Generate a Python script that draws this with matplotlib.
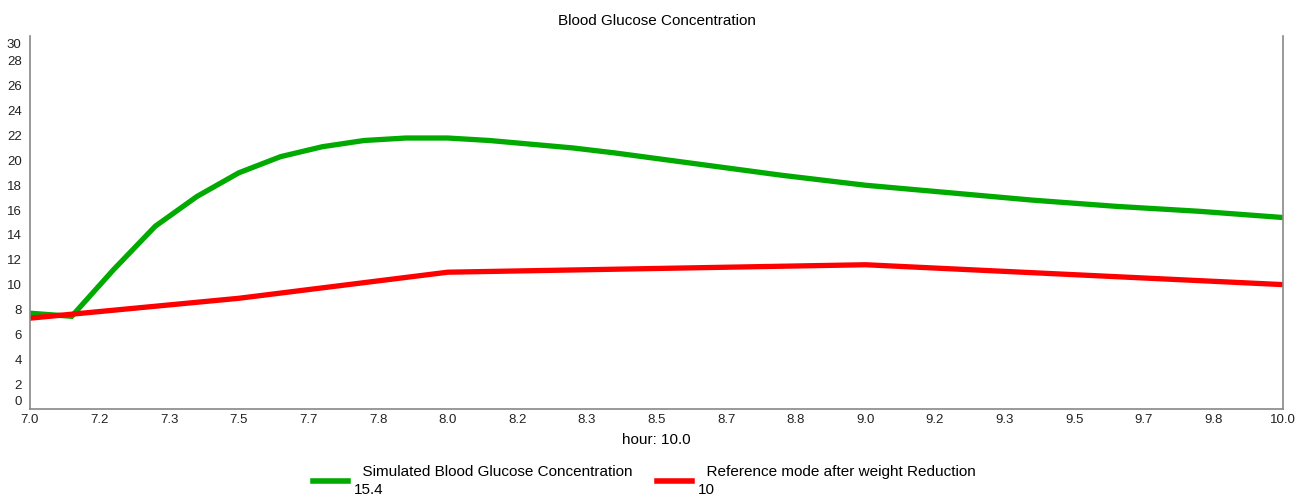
import numpy as np
import matplotlib
matplotlib.use("Agg")
import matplotlib.pyplot as plt
from matplotlib.ticker import FormatStrFormatter
from matplotlib.transforms import ScaledTranslation

plt.rcParams['font.family'] = ['Liberation Sans', 'DejaVu Sans']

# Simulated glucose, sampled every 0.1 hour from 7.0 to 10.0
sim_hours = np.round(np.arange(7.0, 10.01, 0.1), 1)
sim_glucose = [7.7, 7.45, 11.2, 14.7, 17.1, 19.0, 20.3, 21.1, 21.6, 21.8,
               21.8, 21.6, 21.3, 21.0, 20.6, 20.15, 19.7, 19.25, 18.8, 18.4,
               18.0, 17.7, 17.4, 17.1, 16.8, 16.55, 16.3, 16.1, 15.9, 15.65,
               15.4]

# Reference mode after weight reduction
ref_hours = [7.0, 7.5, 8.0, 9.0, 10.0]
ref_glucose = [7.3, 8.9, 11.0, 11.6, 10.0]

sim_label = "  Simulated Blood Glucose Concentration\n15.4"
ref_label = "  Reference mode after weight Reduction\n10"

fig = plt.figure(figsize=(12.96, 4.95), dpi=100)
ax = fig.add_axes([0.0231, 0.174, 0.967, 0.753])

ax.plot(sim_hours, sim_glucose, color="#00aa00", lw=3.8,
        solid_joinstyle="miter", label=sim_label)
ax.plot(ref_hours, ref_glucose, color="#ff0000", lw=3.8,
        solid_joinstyle="miter", label=ref_label)

ax.set_xlim(7.0, 10.0)
ax.set_ylim(0, 30)
ax.set_xticks(7.0 + np.arange(19) / 6)
ax.xaxis.set_major_formatter(FormatStrFormatter("%.1f"))
ax.set_yticks(np.arange(0, 31, 2))

ax.tick_params(axis="both", length=0, labelsize=9.5, colors="#222222")
ax.tick_params(axis="x", pad=4)
ax.tick_params(axis="y", pad=6)

for side in ["left", "right", "bottom"]:
    ax.spines[side].set_color("#888888")
    ax.spines[side].set_linewidth(1.2)
ax.spines["top"].set_visible(False)

# keep the end labels inside the axis span
yticks = ax.yaxis.get_major_ticks()
lab0 = yticks[0].label1
lab0.set_transform(lab0.get_transform() + ScaledTranslation(0, 8 / 100, fig.dpi_scale_trans))
lab_top = yticks[-1].label1
lab_top.set_transform(lab_top.get_transform() + ScaledTranslation(0, -7 / 100, fig.dpi_scale_trans))

ax.set_title("Blood Glucose Concentration", fontsize=11, pad=8)
ax.set_xlabel("hour: 10.0", fontsize=11, labelpad=5)

leg = fig.legend(loc="center", bbox_to_anchor=(0.497, 0.028), ncol=2,
                 frameon=False, fontsize=11, handlelength=2.3,
                 handletextpad=0.4, columnspacing=1.6)
for t in leg.get_texts():
    t.set_linespacing(1.3)
for h in leg.get_lines():
    h.set_linewidth(4)

fig.savefig("out.png", dpi=100)
